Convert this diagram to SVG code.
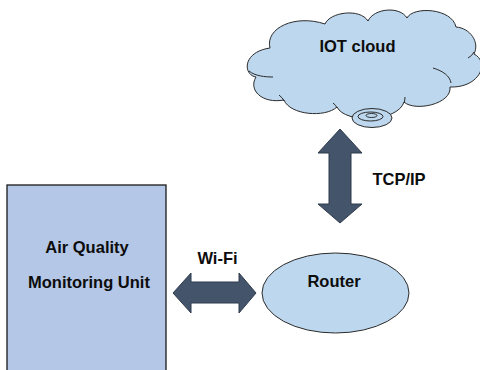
<svg xmlns="http://www.w3.org/2000/svg" width="480" height="370" viewBox="0 0 480 370">
  <style>
    .lbl { font-family: "Liberation Sans", Arial, sans-serif; font-weight: bold; font-size: 16.5px; fill: #0d0d0d; text-anchor: middle; }
    .cloud { fill: #BDD7EE; stroke: #2b2b2b; stroke-width: 1; }
    .inner { fill: none; stroke: #2b2b2b; stroke-width: 1; }
    .arrow { fill: #44546A; stroke: #2F3B4C; stroke-width: 1; }
  </style>
  <rect width="480" height="370" fill="#ffffff"/>

  <g id="iot-cloud">
    <path class="cloud" d="M 256,77 C 243,75 242,52 270,48 C 265,28 295,14 325,24 C 330,12 360,8 368,21 C 374,8 400,6 407,18 C 413,6 452,8 456,27 C 470,28 480,42 474,54 C 490,62 480,88 450,87 C 452,104 415,112 404,102 C 398,122 345,124 337,107 C 325,118 290,115 284,100 C 262,104 248,90 256,77 Z"/>
    <path class="inner" d="M 249,71 C 255,76 265,77 273,77"/>
    <path class="inner" d="M 279,95 Q 283,98 284,101"/>
    <path class="inner" d="M 333,103 Q 336,105 337,108"/>
    <path class="inner" d="M 405,97 Q 405,100 404,103"/>
    <path class="inner" d="M 433,68 C 443,71 450,76 451,83"/>
    <path class="inner" d="M 468,58 Q 472,56 474,52"/>
    <ellipse class="cloud" cx="372" cy="118" rx="20" ry="9.5"/>
    <ellipse class="cloud" cx="370.5" cy="116.5" rx="12.5" ry="4.5"/>
    <ellipse class="cloud" cx="371.5" cy="115.5" rx="5.5" ry="2"/>
    <text class="lbl" x="357.5" y="51.5">IOT cloud</text>
  </g>

  <g id="aqmu">
    <rect x="7" y="185" width="159" height="200" fill="#B4C7E7" stroke="#1a1a1a" stroke-width="1.3"/>
    <text class="lbl" x="87" y="252.7" font-size="17">Air Quality</text>
    <text class="lbl" x="89" y="287.5" font-size="17">Monitoring Unit</text>
  </g>

  <g id="router">
    <ellipse class="cloud" cx="335.5" cy="293" rx="73.5" ry="40"/>
    <text class="lbl" x="334" y="287.3" font-size="16.8">Router</text>
  </g>

  <g id="connectors">
    <polygon class="arrow" points="340,129 362,153 351,153 351,204 362,204 340,223 318,204 329,204 329,153 318,153"/>
    <polygon class="arrow" points="173,293 191,273 191,282 239,282 239,273 256,293 239,313 239,303 191,303 191,313"/>
    <text class="lbl" x="399" y="185" font-size="16">TCP/IP</text>
    <text class="lbl" x="217.5" y="264" font-size="16">Wi-Fi</text>
  </g>
</svg>
